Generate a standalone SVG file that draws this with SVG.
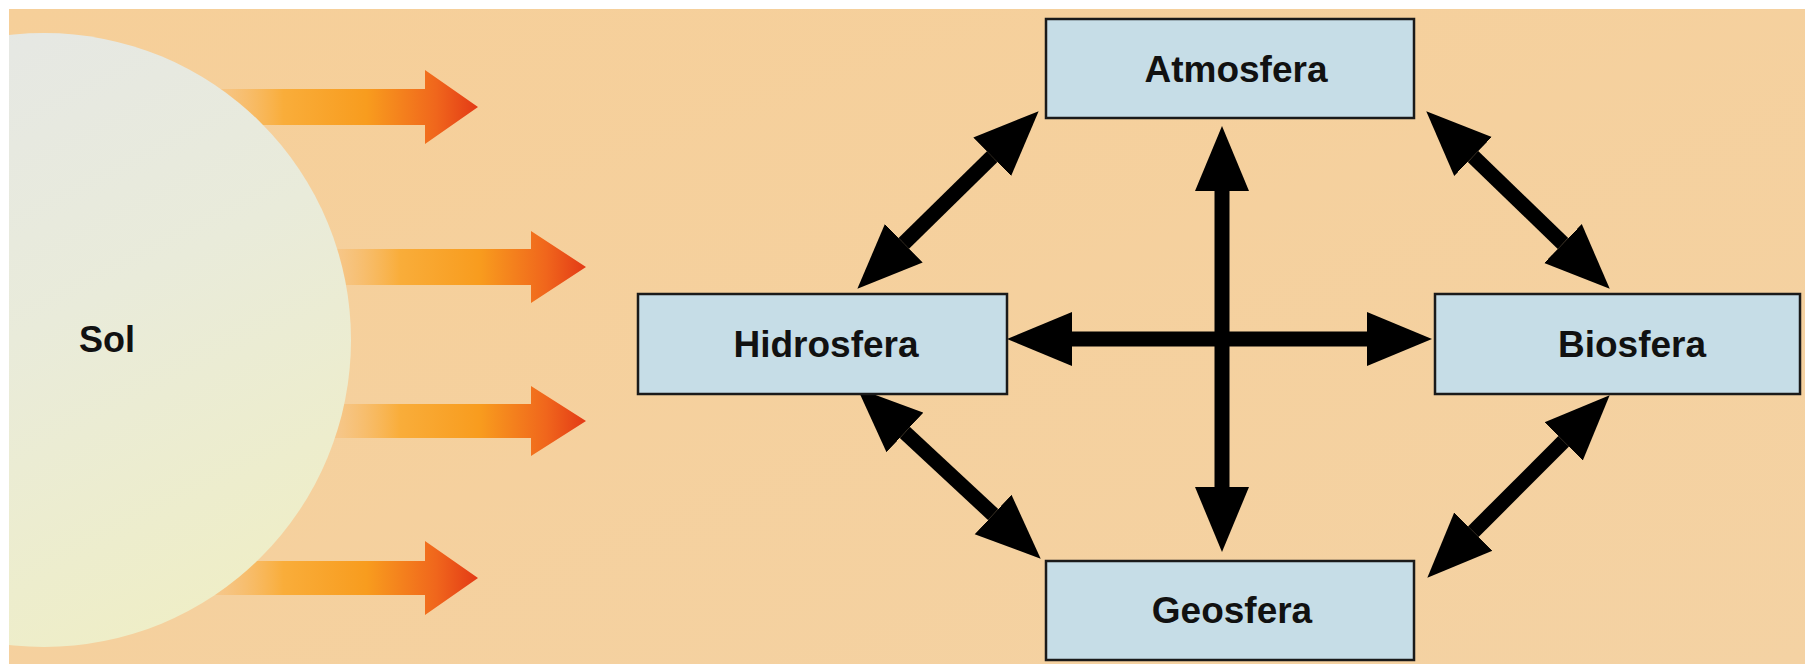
<svg xmlns="http://www.w3.org/2000/svg" width="1805" height="664" viewBox="0 0 1805 664">
  <style>
    .box { fill: #c6dde7; stroke: #1a1a1a; stroke-width: 2.5; }
    .lbl { font-family: "Liberation Sans", Arial, sans-serif; font-weight: bold; font-size: 37px; fill: #111; text-anchor: middle; }
    .conn { stroke: #000; stroke-width: 15; fill: none; marker-start: url(#head); marker-end: url(#head); }
    .ray { fill: url(#rayGrad); }
  </style>
  <defs>
    <marker id="head" markerUnits="userSpaceOnUse" viewBox="0 -28 68 56" refX="0" refY="0" markerWidth="68" markerHeight="56" orient="auto-start-reverse">
      <path d="M0,-27 L65,0 L0,27 z" fill="#000"/>
    </marker>
    <linearGradient id="bgGrad" x1="0" y1="0" x2="1" y2="1">
      <stop offset="0" stop-color="#f6cf99"/>
      <stop offset="1" stop-color="#f4d2a3"/>
    </linearGradient>
    <linearGradient id="sunGrad" x1="0.2" y1="0" x2="0.7" y2="1">
      <stop offset="0" stop-color="#e5e7e6"/>
      <stop offset="0.5" stop-color="#e9ebda"/>
      <stop offset="1" stop-color="#efeec6"/>
    </linearGradient>
    <linearGradient id="rayGrad" x1="0" y1="0" x2="1" y2="0">
      <stop offset="0" stop-color="#f6c68e" stop-opacity="0.5"/>
      <stop offset="0.3" stop-color="#f9ad3a"/>
      <stop offset="0.6" stop-color="#f89c1e"/>
      <stop offset="0.85" stop-color="#f0661c"/>
      <stop offset="1" stop-color="#e33a16"/>
    </linearGradient>
  </defs>

  <rect x="0" y="0" width="1805" height="664" fill="#ffffff"/>
  <rect x="9" y="9" width="1796" height="655" fill="url(#bgGrad)"/>

  <g id="rays">
    <path class="ray" d="M200,89 L425,89 L425,70 L478,107 L425,144 L425,125 L200,125 z"/>
    <path class="ray" d="M320,249 L531,249 L531,231 L586,267 L531,303 L531,285 L320,285 z"/>
    <path class="ray" d="M320,404 L531,404 L531,386 L586,421 L531,456 L531,438 L320,438 z"/>
    <path class="ray" d="M200,561 L425,561 L425,541 L478,578 L425,615 L425,595 L200,595 z"/>
  </g>

  <g id="sol">
    <clipPath id="frameClip"><rect x="9" y="9" width="1796" height="655"/></clipPath>
    <circle cx="44" cy="340" r="307" fill="url(#sunGrad)" clip-path="url(#frameClip)"/>
    <text class="lbl" x="107" y="352" style="font-size:36px">Sol</text>
  </g>

  <g id="connectors">
    <path class="conn" d="M1222,191 L1222,487"/>
    <path class="conn" d="M1072,339 L1367,339"/>
    <path class="conn" d="M992.2,156.7 L903.8,243.3"/>
    <path class="conn" d="M1473,156.5 L1563,243.5"/>
    <path class="conn" d="M904.9,432.5 L993.1,514.5"/>
    <path class="conn" d="M1563.7,441.3 L1473.3,531.7"/>
  </g>

  <g id="atmosfera">
    <rect class="box" x="1046" y="19" width="368" height="99"/>
    <text class="lbl" x="1236" y="82">Atmosfera</text>
  </g>
  <g id="hidrosfera">
    <rect class="box" x="638" y="294" width="369" height="100"/>
    <text class="lbl" x="826" y="357">Hidrosfera</text>
  </g>
  <g id="biosfera">
    <rect class="box" x="1435" y="294" width="365" height="100"/>
    <text class="lbl" x="1632" y="357">Biosfera</text>
  </g>
  <g id="geosfera">
    <rect class="box" x="1046" y="561" width="368" height="99"/>
    <text class="lbl" x="1232" y="623">Geosfera</text>
  </g>
</svg>
